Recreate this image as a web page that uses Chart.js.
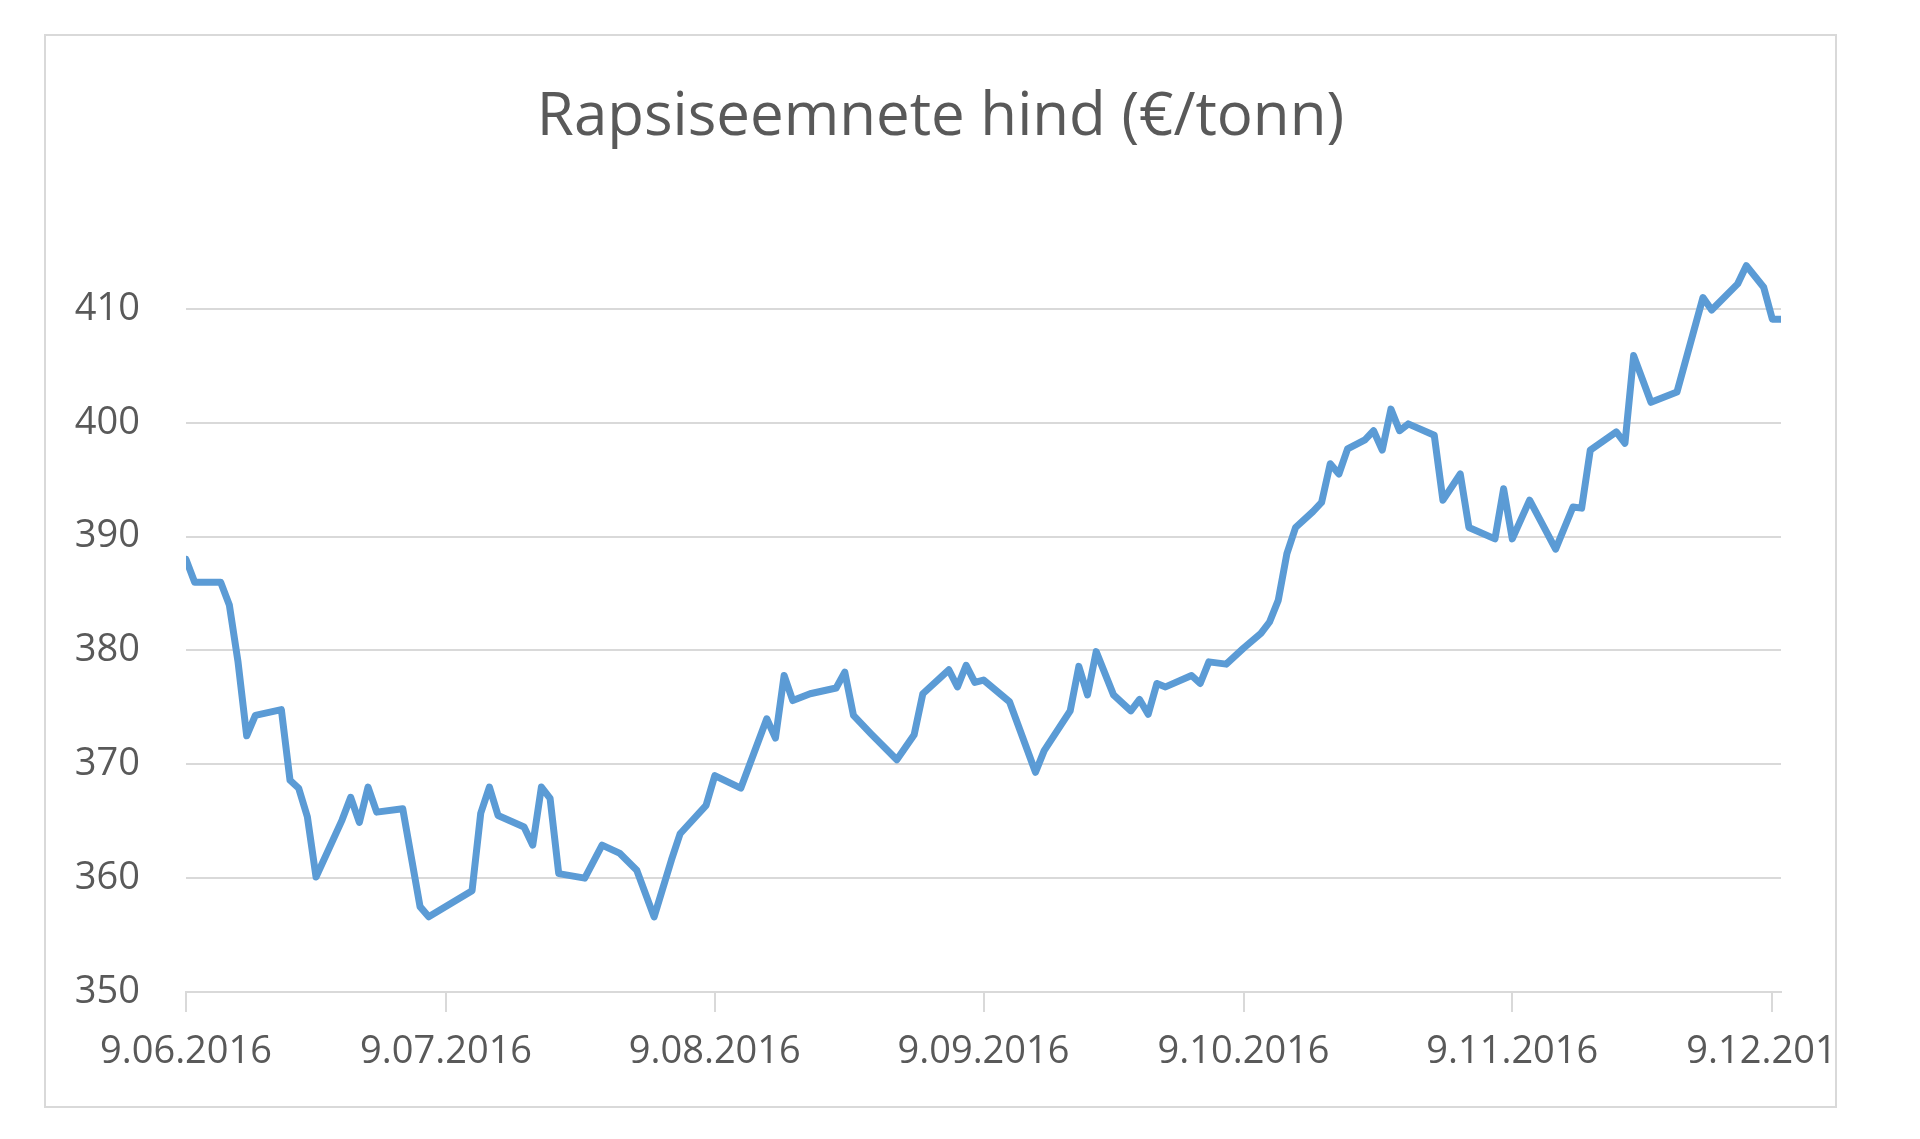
<!DOCTYPE html>
<html>
<head>
<meta charset="utf-8">
<title>Rapsiseemnete hind</title>
<script src="https://cdn.jsdelivr.net/npm/chart.js"></script>
<style>
  body { margin: 0; background: #fff; }
  .card { position: absolute; left: 44px; top: 34px; width: 1793px; height: 1074px; box-sizing: border-box; border: 2px solid #d9d9d9; background: #fff; }
</style>
</head>
<body>
<div class="card"><canvas id="grafica" width="1789" height="1070"></canvas></div>
<script>
// 1. DATA (x = days since 9.06.2016, y = €/tonn)
const days = [0, 1, 4, 5, 6, 7, 8, 11, 12, 13, 14, 15, 18, 19, 20, 21, 22, 25, 27, 28,
  33, 34, 35, 36, 39, 40, 41, 42, 43, 46, 48, 50, 52, 54, 56, 57, 60, 61, 64, 67,
  68, 69, 70, 72, 75, 76, 77, 79, 82, 84, 85, 88, 89, 90, 91, 92, 95, 98, 99, 102,
  103, 104, 105, 107, 109, 110, 111, 112, 113, 116, 117, 118, 120, 122, 124, 125, 126, 127, 128, 130,
  131, 132, 133, 134, 136, 137, 138, 139, 140, 141, 144, 145, 147, 148, 151, 152, 153, 155, 158, 160,
  161, 162, 165, 166, 167, 169, 172, 175, 176, 179, 180, 182, 183, 184];
const prices = [388, 386, 386, 384, 379, 372.5, 374.3, 374.8, 368.6, 367.9, 365.4, 360.1, 365.1, 367.1, 364.9, 368, 365.8, 366.1, 357.5, 356.6,
  358.9, 365.7, 368, 365.5, 364.5, 362.9, 368, 367, 360.4, 360, 362.9, 362.2, 360.7, 356.6, 361.6, 363.9, 366.4, 369, 367.9, 374,
  372.3, 377.8, 375.6, 376.2, 376.7, 378.1, 374.3, 372.7, 370.4, 372.6, 376.2, 378.3, 376.8, 378.7, 377.2, 377.4, 375.5, 369.3, 371.2, 374.7,
  378.6, 376.1, 379.9, 376.1, 374.7, 375.7, 374.4, 377.1, 376.8, 377.8, 377.1, 379, 378.8, 380.2, 381.5, 382.5, 384.4, 388.5, 390.8, 392.2,
  393, 396.4, 395.5, 397.7, 398.5, 399.3, 397.6, 401.2, 399.3, 399.9, 398.9, 393.2, 395.5, 390.8, 389.8, 394.2, 389.8, 393.2, 388.9, 392.6,
  392.5, 397.6, 399.2, 398.2, 405.9, 401.8, 402.7, 411, 409.9, 412.2, 413.8, 411.9, 409.1, 409.1];
const tickDays = [0, 30, 61, 92, 122, 153, 183];
const tickLabels = ['9.06.2016', '9.07.2016', '9.08.2016', '9.09.2016', '9.10.2016', '9.11.2016', '9.12.2016'];
const yTicks = [350, 360, 370, 380, 390, 400, 410];

const gray = '#595959';
const gridGray = '#d9d9d9';

// 2. CHART
new Chart(document.getElementById('grafica'), {
  type: 'line',
  data: {
    datasets: [{
      data: days.map((d, i) => ({ x: d, y: prices[i] })),
      borderColor: '#5b9bd5',
      borderWidth: 7,
      borderJoinStyle: 'round',
      borderCapStyle: 'round',
      pointRadius: 0,
      tension: 0
    }]
  },
  options: {
    responsive: false,
    animation: false,
    layout: { padding: 0 },
    plugins: {
      legend: { display: false },
      tooltip: { enabled: false },
      title: {
        display: true,
        text: 'Rapsiseemnete hind (€/tonn)',
        color: gray,
        font: { family: 'Open Sans', size: 60, weight: 'normal' },
        padding: { top: 46, bottom: 98 }
      }
    },
    scales: {
      x: {
        type: 'linear',
        min: 0,
        max: 184,
        afterBuildTicks: s => { s.ticks = tickDays.map(v => ({ value: v })); },
        // keep the last date label running past the frame, as in the original
        afterFit: s => { s.height = 114; s.paddingLeft = 0; s.paddingRight = 54; },
        ticks: {
          autoSkip: false,
          maxRotation: 0,
          padding: 17,
          color: gray,
          font: { family: 'Open Sans', size: 38 },
          callback: (v, i) => tickLabels[i]
        },
        grid: { drawOnChartArea: false, drawTicks: true, tickLength: 20, color: gridGray, lineWidth: 2 },
        border: { display: true, color: gridGray, width: 2 }
      },
      y: {
        min: 350,
        max: 415,
        afterBuildTicks: s => { s.ticks = yTicks.map(v => ({ value: v })); },
        afterFit: s => { s.width = 140; },
        ticks: { padding: 46, color: gray, font: { family: 'Open Sans', size: 38 } },
        grid: { color: gridGray, lineWidth: 2, drawTicks: false },
        border: { display: false }
      }
    }
  }
});
</script>
</body>
</html>
